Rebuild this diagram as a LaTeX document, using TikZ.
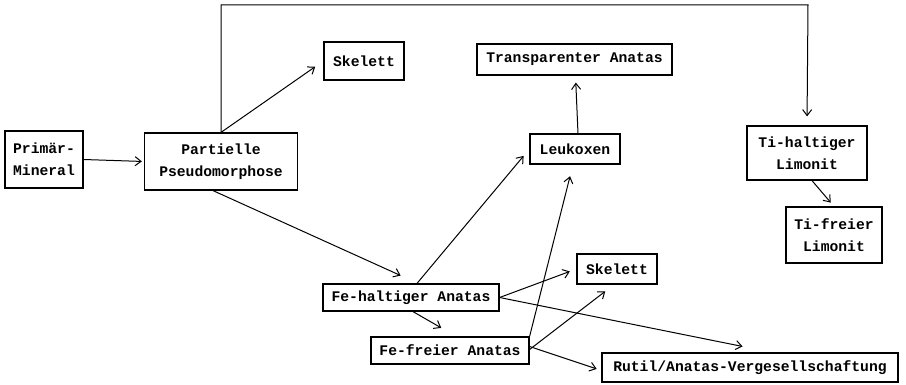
\documentclass[tikz,border=0pt]{standalone}
\usepackage{fontspec}
\setmonofont{Liberation Mono}
\usetikzlibrary{arrows.meta}
\begin{document}
\begin{tikzpicture}[x=1pt,y=-1pt,
  box/.style={draw,line width=1.2pt,inner sep=0pt,align=center,
    font=\ttfamily\bfseries\fontsize{14.7}{22}\selectfont},
  arr/.style={line width=1pt,-{Straight Barb[length=6pt,width=9pt,line width=1pt]}}]
\useasboundingbox (0,0) rectangle (906,385);
\node[box,minimum width=78pt,minimum height=57pt] (prim) at (44,159.5) {Primär-\\Mineral};
\node[box,minimum width=153pt,minimum height=57pt] (part) at (221,161.5) {Partielle\\Pseudomorphose};
\node[box,minimum width=80pt,minimum height=38pt] (skel1) at (364,61) {Skelett};
\node[box,minimum width=195pt,minimum height=31pt] (trans) at (574.5,59.5) {Transparenter Anatas};
\node[box,minimum width=90pt,minimum height=30pt] (leuk) at (575,149) {Leukoxen};
\node[box,minimum width=120pt,minimum height=54pt] (tih) at (807,153) {Ti-haltiger\\Limonit};
\node[box,minimum width=96pt,minimum height=56pt] (tif) at (834,235) {Ti-freier\\Limonit};
\node[box,minimum width=80pt,minimum height=30pt] (skel2) at (617,269) {Skelett};
\node[box,minimum width=176pt,minimum height=27pt] (feh) at (411,297.5) {Fe-haltiger Anatas};
\node[box,minimum width=158pt,minimum height=27pt] (fef) at (450,350.5) {Fe-freier Anatas};
\node[box,minimum width=296pt,minimum height=29pt] (rutil) at (750,367.5) {Rutil/Anatas-Vergesellschaftung};
\coordinate (top) at (808,5);

\draw[arr,shorten >=2pt] (prim.east) -- (part.west);
\draw[arr,shorten >=9pt] (part.north) |- (top) -- (tih.north);
\draw[arr,shorten >=10pt] (part.north) -- (skel1.west);
\draw[arr,shorten >=19pt] ([xshift=-8pt]part.south) -- ([xshift=7pt]feh.north);
\draw[arr,shorten >=9pt] ([xshift=6pt]feh.north) -- (leuk.west);
\draw[arr,shorten >=12pt] (fef.north east) -- ([xshift=-2pt]leuk.south);
\draw[arr,shorten >=7pt] ([xshift=3pt]leuk.north) -- ([xshift=1pt]trans.south);
\draw[arr,shorten >=17pt] ([xshift=2pt]feh.south) -- ([xshift=6pt]fef.north);
\draw[arr,shorten >=7pt] (feh.east) -- (skel2.west);
\draw[arr,shorten >=30pt] (feh.east) -- ([xshift=22pt]rutil.north);
\draw[arr,shorten >=11pt] ([yshift=1pt]fef.east) -- ([xshift=-3pt]skel2.south);
\draw[arr,shorten >=5pt] ([yshift=4pt]fef.east) -- ([yshift=-3pt]rutil.west);
\draw[arr,shorten >=5pt] ([xshift=5pt]tih.south) -- (tif.north);
\end{tikzpicture}
\end{document}
